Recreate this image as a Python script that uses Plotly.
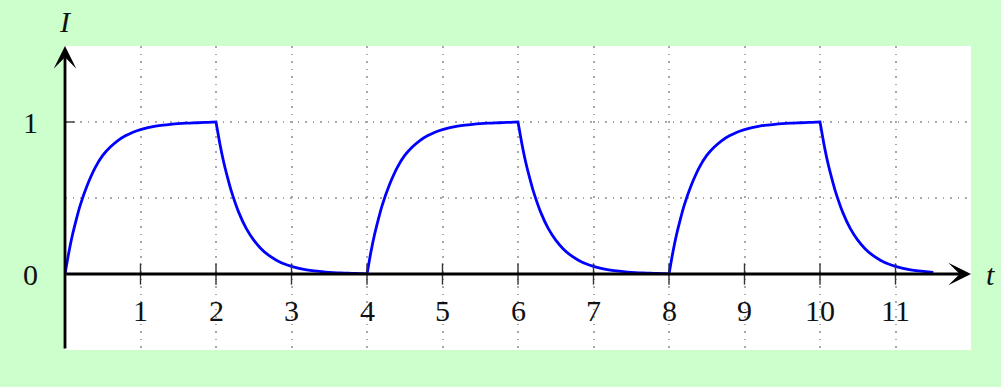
import plotly.graph_objects as go

# values
charge_t = [0.0, 0.05, 0.1, 0.15, 0.2, 0.3, 0.4, 0.5, 0.6, 0.7, 0.8, 0.9, 1.0, 1.1, 1.2, 1.3, 1.4, 1.5, 1.6, 1.7, 1.8, 1.9, 2.0]
charge_I = [0.0, 0.14, 0.26, 0.36, 0.45, 0.59, 0.70, 0.78, 0.835, 0.878, 0.909, 0.933, 0.95, 0.963, 0.973, 0.98, 0.985, 0.989, 0.992, 0.994, 0.996, 0.998, 1.0]
discharge_I = [1.0, 0.86, 0.74, 0.64, 0.55, 0.407, 0.30, 0.223, 0.165, 0.122, 0.091, 0.067, 0.05, 0.037, 0.027, 0.02, 0.015, 0.011, 0.008, 0.006, 0.004, 0.003, 0.002]
period_starts = [0, 4, 8]
last_discharge_end = 11.5

x_ticks = [1, 2, 3, 4, 5, 6, 7, 8, 9, 10, 11]
y_ticks = [0, 1]

t_vals, i_vals = [], []
for s in period_starts:
    for tt, ii in zip(charge_t, charge_I):
        t_vals.append(s + tt); i_vals.append(ii)
    for tt, ii in zip(charge_t, discharge_I):
        if s + 2 + tt <= last_discharge_end + 1e-9:
            t_vals.append(s + 2 + tt); i_vals.append(ii)

fig = go.Figure()
fig.add_trace(go.Scatter(x=t_vals, y=i_vals, mode="lines",
                         line=dict(color="#0000ff", width=2.8, shape="spline", smoothing=0.6),
                         hoverinfo="skip", showlegend=False))

FONT = "Liberation Serif"
FS = 30
shapes = []
for xt in x_ticks:
    shapes.append(dict(type="line", xref="x", yref="y", x0=xt, x1=xt, y0=-0.07, y1=0.07,
                       line=dict(color="#333333", width=1.4), layer="above"))
for yt in y_ticks:
    shapes.append(dict(type="line", xref="x", yref="y", x0=-0.13, x1=0.13, y0=yt, y1=yt,
                       line=dict(color="#333333", width=1.4), layer="above"))

ann = []
for xt in x_ticks:
    ann.append(dict(x=xt, y=-0.237, xref="x", yref="y", text=str(xt), showarrow=False,
                    xanchor="center", yanchor="middle",
                    font=dict(family=FONT, size=FS, color="#111111")))
for yt in y_ticks:
    ann.append(dict(x=-0.0386, y=yt, xref="paper", yref="y", text=str(yt), showarrow=False,
                    xanchor="center", yanchor="middle",
                    font=dict(family=FONT, size=FS, color="#111111")))
# axes arrows
ann.append(dict(x=12, y=0, ax=0, ay=0, xref="x", yref="y", axref="x", ayref="y", text="",
                showarrow=True, arrowhead=3, arrowsize=1.35, arrowwidth=2.8, arrowcolor="black"))
ann.append(dict(x=0, y=1.5, ax=0, ay=-0.5, xref="x", yref="y", axref="x", ayref="y", text="",
                showarrow=True, arrowhead=3, arrowsize=1.35, arrowwidth=2.8, arrowcolor="black"))
ann.append(dict(x=1.021, y=0, xref="paper", yref="y", text="<i>t</i>", showarrow=False,
                xanchor="center", yanchor="middle",
                font=dict(family=FONT, size=FS, color="#111111")))
ann.append(dict(x=0, y=1.079, xref="x", yref="paper", text="<i>I</i>", showarrow=False,
                xanchor="center", yanchor="middle",
                font=dict(family=FONT, size=FS, color="#111111")))

fig.update_layout(
    width=1001, height=387,
    margin=dict(l=65, r=30, t=46, b=37),
    paper_bgcolor="#ccffcc", plot_bgcolor="white",
    shapes=shapes, annotations=ann,
    xaxis=dict(range=[0, 12], dtick=1, tick0=0, showticklabels=False, ticks="",
               showgrid=True, gridcolor="#a8a8a8", gridwidth=1.5, griddash="1.5px,6px",
               zeroline=False, showline=False, fixedrange=True),
    yaxis=dict(range=[-0.5, 1.5], dtick=0.5, tick0=0, showticklabels=False, ticks="",
               showgrid=True, gridcolor="#a8a8a8", gridwidth=1.5, griddash="1.5px,6px",
               zeroline=False, showline=False, fixedrange=True),
)
fig.write_html("out.html", config={"displayModeBar": False},
               post_script="document.body.style.margin='0';document.body.style.background='#ccffcc';")
